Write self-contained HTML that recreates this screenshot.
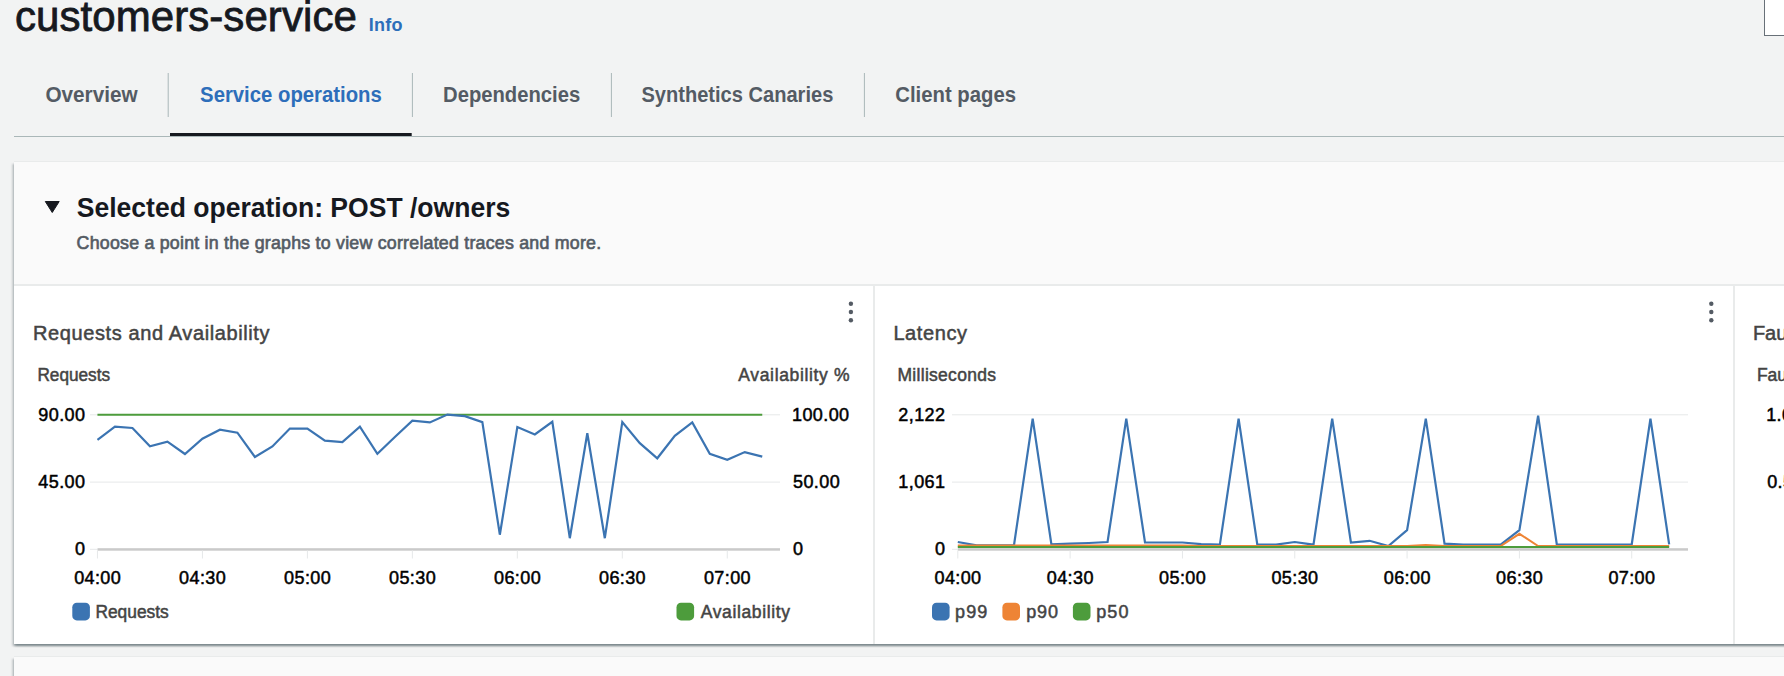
<!DOCTYPE html>
<html><head><meta charset="utf-8"><title>customers-service</title>
<style>
html,body{margin:0;padding:0}
html,body{width:1784px;height:676px;overflow:hidden;background:#f2f3f3}
#root{position:relative;width:1784px;height:676px;overflow:hidden;background:#f2f3f3;font-family:"Liberation Sans", Arial, sans-serif}
.panel{position:absolute;left:14px;width:1820px;background:#fff;box-shadow:0 -1px 0 0 #e9ebeb,0 2px 2px 0 rgba(0,28,36,.3),2px 2px 2px 0 rgba(0,28,36,.15),-2px 2px 2px 0 rgba(0,28,36,.15)}
#p1{top:162px;height:482px}
#p1 .hd{position:absolute;left:0;top:0;right:0;height:122px;background:#fafafa;border-bottom:2px solid #e9ebeb}
#p1 .vs{position:absolute;top:124px;bottom:0;width:2px;background:#e9ebeb}
#p2{top:657px;height:60px;background:#fafafa}
.tr{position:absolute;left:1764px;top:-10px;width:40px;height:46px;background:#fff;border:1px solid #687078;box-sizing:border-box}
svg{position:absolute;left:0;top:0}
svg text{font-family:"Liberation Sans", Arial, sans-serif}
</style></head><body>
<div id="root">
<div class="tr"></div>
<div class="panel" id="p1"><div class="hd"></div><div class="vs" style="left:859px"></div><div class="vs" style="left:1719px"></div></div>
<div class="panel" id="p2"></div>
<svg width="1784" height="676" viewBox="0 0 1784 676">
<rect x="167.7" y="73" width="1" height="44" fill="#aab7b8"/>
<rect x="411.9" y="73" width="1" height="44" fill="#aab7b8"/>
<rect x="610.9" y="73" width="1" height="44" fill="#aab7b8"/>
<rect x="863.9" y="73" width="1" height="44" fill="#aab7b8"/>
<rect x="14" y="136" width="1770" height="1" fill="#aab7b8"/>
<rect x="170" y="133" width="241.7" height="3" fill="#16191f"/>
<path d="M45.3,201.5 L59.2,201.5 L52.25,212.5 Z" fill="#16191f" stroke="#16191f" stroke-width="1" stroke-linejoin="round"/>
<rect x="90" y="414.3" width="690" height="1" fill="#e6e8e9"/>
<rect x="90" y="481.6" width="690" height="1" fill="#e6e8e9"/>
<rect x="90" y="548.8" width="7.5" height="1" fill="#e6e8e9"/>
<rect x="97.5" y="548.2" width="682.5" height="2.5" fill="#cacaca"/>
<rect x="96.95" y="550.5" width="1" height="8" fill="#e6e8e9"/>
<rect x="201.92" y="550.5" width="1" height="8" fill="#e6e8e9"/>
<rect x="306.89" y="550.5" width="1" height="8" fill="#e6e8e9"/>
<rect x="411.86" y="550.5" width="1" height="8" fill="#e6e8e9"/>
<rect x="516.83" y="550.5" width="1" height="8" fill="#e6e8e9"/>
<rect x="621.80" y="550.5" width="1" height="8" fill="#e6e8e9"/>
<rect x="726.77" y="550.5" width="1" height="8" fill="#e6e8e9"/>
<rect x="952" y="414.3" width="736" height="1" fill="#e6e8e9"/>
<rect x="952" y="481.6" width="736" height="1" fill="#e6e8e9"/>
<rect x="952" y="548.8" width="5.8" height="1" fill="#e6e8e9"/>
<rect x="957.8" y="548.2" width="730.2" height="2.5" fill="#cacaca"/>
<rect x="957.30" y="550.5" width="1" height="8" fill="#e6e8e9"/>
<rect x="1069.62" y="550.5" width="1" height="8" fill="#e6e8e9"/>
<rect x="1181.94" y="550.5" width="1" height="8" fill="#e6e8e9"/>
<rect x="1294.26" y="550.5" width="1" height="8" fill="#e6e8e9"/>
<rect x="1406.58" y="550.5" width="1" height="8" fill="#e6e8e9"/>
<rect x="1518.90" y="550.5" width="1" height="8" fill="#e6e8e9"/>
<rect x="1631.22" y="550.5" width="1" height="8" fill="#e6e8e9"/>
<line x1="97.45" y1="414.8" x2="762.26" y2="414.8" stroke="#4d9c3c" stroke-width="2"/>
<polyline points="97.45,439.80 114.95,426.70 132.44,428.00 149.94,446.30 167.43,441.70 184.93,454.00 202.42,438.70 219.92,429.70 237.41,432.70 254.91,457.00 272.40,446.50 289.90,428.60 307.39,428.60 324.88,440.60 342.38,442.00 359.88,426.70 377.37,453.80 394.87,437.00 412.36,420.70 429.86,422.40 447.35,414.60 464.85,416.20 482.34,422.20 499.84,534.70 517.33,427.10 534.83,434.40 552.32,421.80 569.82,538.20 587.31,433.30 604.81,538.20 622.30,422.10 639.80,443.20 657.29,458.30 674.79,435.90 692.28,422.40 709.78,453.80 727.27,459.80 744.77,452.10 762.26,456.60" fill="none" stroke="#3b74b2" stroke-width="2.2" stroke-linejoin="miter"/>
<polyline points="957.80,542.00 976.52,545.40 995.24,545.40 1013.96,545.40 1032.68,418.60 1051.40,544.40 1070.12,543.60 1088.84,543.00 1107.56,542.00 1126.28,418.60 1145.00,542.50 1163.72,542.50 1182.44,542.50 1201.16,544.10 1219.88,544.70 1238.60,418.60 1257.32,544.70 1276.04,544.70 1294.76,542.00 1313.48,544.70 1332.20,418.60 1350.92,542.50 1369.64,540.80 1388.36,546.00 1407.08,530.20 1425.80,418.60 1444.52,543.70 1463.24,544.70 1481.96,544.70 1500.68,544.70 1519.40,530.20 1538.12,415.60 1556.84,544.70 1575.56,544.70 1594.28,544.70 1613.00,544.70 1631.72,544.40 1650.44,418.60 1669.16,544.40" fill="none" stroke="#3b74b2" stroke-width="2.2"/>
<polyline points="957.80,545.40 976.52,545.40 995.24,545.40 1013.96,545.40 1032.68,545.40 1051.40,545.40 1070.12,545.40 1088.84,545.40 1107.56,545.40 1126.28,545.40 1145.00,545.40 1163.72,545.40 1182.44,545.40 1201.16,546.00 1219.88,546.00 1238.60,546.00 1257.32,546.00 1276.04,546.00 1294.76,546.00 1313.48,546.00 1332.20,546.00 1350.92,546.00 1369.64,546.00 1388.36,546.00 1407.08,546.00 1425.80,545.00 1444.52,546.00 1463.24,546.00 1481.96,546.00 1500.68,546.00 1519.40,533.80 1538.12,546.00 1556.84,546.00 1575.56,546.00 1594.28,546.00 1613.00,546.00 1631.72,546.00 1650.44,546.00 1669.16,546.00" fill="none" stroke="#ee8435" stroke-width="2"/>
<polyline points="957.80,547.00 976.52,547.00 995.24,547.00 1013.96,547.00 1032.68,547.00 1051.40,547.00 1070.12,547.00 1088.84,547.00 1107.56,547.00 1126.28,547.00 1145.00,547.00 1163.72,547.00 1182.44,547.00 1201.16,547.00 1219.88,547.00 1238.60,547.00 1257.32,547.00 1276.04,547.00 1294.76,547.00 1313.48,547.00 1332.20,547.00 1350.92,547.00 1369.64,547.00 1388.36,547.00 1407.08,547.00 1425.80,547.00 1444.52,547.00 1463.24,547.00 1481.96,547.00 1500.68,547.00 1519.40,547.00 1538.12,547.00 1556.84,547.00 1575.56,547.00 1594.28,547.00 1613.00,547.00 1631.72,547.00 1650.44,547.00 1669.16,547.00" fill="none" stroke="#4d9c3c" stroke-width="2"/>
<rect x="72.3" y="602.8" width="17.6" height="17.6" rx="4.5" fill="#3b74b2"/>
<rect x="676.5" y="602.8" width="17.6" height="17.6" rx="4.5" fill="#4d9c3c"/>
<rect x="932.0" y="602.8" width="17.6" height="17.6" rx="4.5" fill="#3b74b2"/>
<rect x="1002.4" y="602.8" width="17.6" height="17.6" rx="4.5" fill="#ee8435"/>
<rect x="1072.9" y="602.8" width="17.6" height="17.6" rx="4.5" fill="#4d9c3c"/>
<circle cx="850.9" cy="303.7" r="2.2" fill="#545b64"/>
<circle cx="850.9" cy="312.0" r="2.2" fill="#545b64"/>
<circle cx="850.9" cy="320.2" r="2.2" fill="#545b64"/>
<circle cx="1711.3" cy="303.7" r="2.2" fill="#545b64"/>
<circle cx="1711.3" cy="312.0" r="2.2" fill="#545b64"/>
<circle cx="1711.3" cy="320.2" r="2.2" fill="#545b64"/>
<text x="14.90" y="30.80" style="font-size:42px;font-weight:normal;fill:#16191f;letter-spacing:0.076px;stroke:#16191f;stroke-width:0.8px">customers-service</text>
<text x="368.80" y="30.80" style="font-size:18px;font-weight:bold;fill:#2d6eba;letter-spacing:0.203px">Info</text>
<text x="45.40" y="102.00" textLength="92.23" lengthAdjust="spacingAndGlyphs" style="font-size:21.5px;font-weight:bold;fill:#545b64">Overview</text>
<text x="200.10" y="102.00" textLength="181.66" lengthAdjust="spacingAndGlyphs" style="font-size:21.5px;font-weight:bold;fill:#2d6eba">Service operations</text>
<text x="443.06" y="102.00" textLength="137.10" lengthAdjust="spacingAndGlyphs" style="font-size:21.5px;font-weight:bold;fill:#545b64">Dependencies</text>
<text x="641.40" y="102.00" textLength="191.96" lengthAdjust="spacingAndGlyphs" style="font-size:21.5px;font-weight:bold;fill:#545b64">Synthetics Canaries</text>
<text x="895.30" y="102.00" textLength="120.76" lengthAdjust="spacingAndGlyphs" style="font-size:21.5px;font-weight:bold;fill:#545b64">Client pages</text>
<text x="76.70" y="217.00" textLength="433.58" lengthAdjust="spacingAndGlyphs" style="font-size:27.5px;font-weight:bold;fill:#16191f">Selected operation: POST /owners</text>
<text x="76.60" y="248.60" style="font-size:17.8px;font-weight:normal;fill:#545b64;letter-spacing:0.231px;stroke:#545b64;stroke-width:0.65px">Choose a point in the graphs to view correlated traces and more.</text>
<text x="33.00" y="339.90" style="font-size:20px;font-weight:normal;fill:#444444;letter-spacing:0.604px;stroke:#444444;stroke-width:0.5px">Requests and Availability</text>
<text x="37.42" y="380.80" textLength="72.64" lengthAdjust="spacingAndGlyphs" style="font-size:17.5px;font-weight:normal;fill:#444444;stroke:#444444;stroke-width:0.5px">Requests</text>
<text x="738.30" y="380.80" style="font-size:17.5px;font-weight:normal;fill:#444444;letter-spacing:0.652px;stroke:#444444;stroke-width:0.5px">Availability %</text>
<text x="893.40" y="339.90" style="font-size:20px;font-weight:normal;fill:#444444;letter-spacing:0.609px;stroke:#444444;stroke-width:0.5px">Latency</text>
<text x="897.50" y="380.80" style="font-size:17.5px;font-weight:normal;fill:#444444;letter-spacing:0.285px;stroke:#444444;stroke-width:0.5px">Milliseconds</text>
<text x="1752.90" y="339.90" style="font-size:20px;font-weight:normal;fill:#444444;stroke:#444444;stroke-width:0.5px">Faults and Errors</text>
<text x="1756.90" y="380.80" style="font-size:17.5px;font-weight:normal;fill:#444444;stroke:#444444;stroke-width:0.5px">Faults</text>
<text x="38.37" y="420.90" style="font-size:18px;font-weight:normal;fill:#000000;letter-spacing:0.400px;stroke:#000000;stroke-width:0.5px">90.00</text>
<text x="38.37" y="488.20" style="font-size:18px;font-weight:normal;fill:#000000;letter-spacing:0.400px;stroke:#000000;stroke-width:0.5px">45.00</text>
<text x="75.00" y="555.40" style="font-size:18px;font-weight:normal;fill:#000000;letter-spacing:0.400px;stroke:#000000;stroke-width:0.5px">0</text>
<text x="792.00" y="420.90" style="font-size:18px;font-weight:normal;fill:#000000;letter-spacing:0.400px;stroke:#000000;stroke-width:0.5px">100.00</text>
<text x="793.00" y="488.20" style="font-size:18px;font-weight:normal;fill:#000000;letter-spacing:0.400px;stroke:#000000;stroke-width:0.5px">50.00</text>
<text x="793.00" y="555.40" style="font-size:18px;font-weight:normal;fill:#000000;letter-spacing:0.400px;stroke:#000000;stroke-width:0.5px">0</text>
<text x="898.37" y="420.90" style="font-size:18px;font-weight:normal;fill:#000000;letter-spacing:0.400px;stroke:#000000;stroke-width:0.5px">2,122</text>
<text x="898.37" y="488.20" style="font-size:18px;font-weight:normal;fill:#000000;letter-spacing:0.400px;stroke:#000000;stroke-width:0.5px">1,061</text>
<text x="935.00" y="555.40" style="font-size:18px;font-weight:normal;fill:#000000;letter-spacing:0.400px;stroke:#000000;stroke-width:0.5px">0</text>
<text x="1766.20" y="420.90" style="font-size:18px;font-weight:normal;fill:#000000;letter-spacing:0.400px;stroke:#000000;stroke-width:0.5px">1.00</text>
<text x="1767.20" y="488.20" style="font-size:18px;font-weight:normal;fill:#000000;letter-spacing:0.400px;stroke:#000000;stroke-width:0.5px">0.50</text>
<text x="74.13" y="584.00" style="font-size:18px;font-weight:normal;fill:#000000;letter-spacing:0.400px;stroke:#000000;stroke-width:0.5px">04:00</text>
<text x="934.48" y="584.00" style="font-size:18px;font-weight:normal;fill:#000000;letter-spacing:0.400px;stroke:#000000;stroke-width:0.5px">04:00</text>
<text x="179.10" y="584.00" style="font-size:18px;font-weight:normal;fill:#000000;letter-spacing:0.400px;stroke:#000000;stroke-width:0.5px">04:30</text>
<text x="1046.80" y="584.00" style="font-size:18px;font-weight:normal;fill:#000000;letter-spacing:0.400px;stroke:#000000;stroke-width:0.5px">04:30</text>
<text x="284.07" y="584.00" style="font-size:18px;font-weight:normal;fill:#000000;letter-spacing:0.400px;stroke:#000000;stroke-width:0.5px">05:00</text>
<text x="1159.12" y="584.00" style="font-size:18px;font-weight:normal;fill:#000000;letter-spacing:0.400px;stroke:#000000;stroke-width:0.5px">05:00</text>
<text x="389.04" y="584.00" style="font-size:18px;font-weight:normal;fill:#000000;letter-spacing:0.400px;stroke:#000000;stroke-width:0.5px">05:30</text>
<text x="1271.44" y="584.00" style="font-size:18px;font-weight:normal;fill:#000000;letter-spacing:0.400px;stroke:#000000;stroke-width:0.5px">05:30</text>
<text x="494.01" y="584.00" style="font-size:18px;font-weight:normal;fill:#000000;letter-spacing:0.400px;stroke:#000000;stroke-width:0.5px">06:00</text>
<text x="1383.76" y="584.00" style="font-size:18px;font-weight:normal;fill:#000000;letter-spacing:0.400px;stroke:#000000;stroke-width:0.5px">06:00</text>
<text x="598.98" y="584.00" style="font-size:18px;font-weight:normal;fill:#000000;letter-spacing:0.400px;stroke:#000000;stroke-width:0.5px">06:30</text>
<text x="1496.08" y="584.00" style="font-size:18px;font-weight:normal;fill:#000000;letter-spacing:0.400px;stroke:#000000;stroke-width:0.5px">06:30</text>
<text x="703.95" y="584.00" style="font-size:18px;font-weight:normal;fill:#000000;letter-spacing:0.400px;stroke:#000000;stroke-width:0.5px">07:00</text>
<text x="1608.40" y="584.00" style="font-size:18px;font-weight:normal;fill:#000000;letter-spacing:0.400px;stroke:#000000;stroke-width:0.5px">07:00</text>
<text x="95.41" y="618.00" textLength="73.34" lengthAdjust="spacingAndGlyphs" style="font-size:17.5px;font-weight:normal;fill:#444444;stroke:#444444;stroke-width:0.5px">Requests</text>
<text x="700.70" y="618.00" style="font-size:17.5px;font-weight:normal;fill:#444444;letter-spacing:0.636px;stroke:#444444;stroke-width:0.5px">Availability</text>
<text x="955.10" y="618.00" style="font-size:18px;font-weight:normal;fill:#444444;letter-spacing:1.039px;stroke:#444444;stroke-width:0.5px">p99</text>
<text x="1026.30" y="618.00" style="font-size:18px;font-weight:normal;fill:#444444;letter-spacing:0.789px;stroke:#444444;stroke-width:0.5px">p90</text>
<text x="1096.20" y="618.00" style="font-size:18px;font-weight:normal;fill:#444444;letter-spacing:1.089px;stroke:#444444;stroke-width:0.5px">p50</text>
</svg>
</div>
</body></html>
